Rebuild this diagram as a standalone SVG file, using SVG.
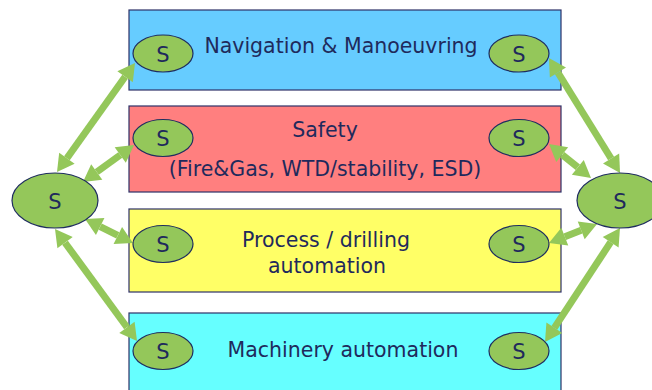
<svg xmlns="http://www.w3.org/2000/svg" width="652" height="390" viewBox="0 0 652 390">
  <style>
    .box { stroke: #2E3168; stroke-width: 1.2; }
    .node { fill: #94C75A; stroke: #1F2D5F; stroke-width: 1.2; }
    .lbl { font-family: "DejaVu Sans", Verdana, sans-serif; font-size: 20.5px; fill: #1F2A5C; text-anchor: middle; }
    .s { font-family: "DejaVu Sans", Verdana, sans-serif; font-size: 21px; fill: #1F2A5C; text-anchor: middle; }
    .link { stroke: #94C75A; stroke-width: 7; fill: none; marker-start: url(#head); marker-end: url(#head); }
  </style>
  <defs>
    <marker id="head" markerUnits="userSpaceOnUse" markerWidth="18" markerHeight="20" refX="0" refY="10" orient="auto-start-reverse" overflow="visible">
      <path d="M0,0.5 L17,10 L0,19.5 Z" fill="#94C75A"/>
    </marker>
  </defs>

  <!-- subsystem bands -->
  <g id="nav">
    <rect class="box" x="129" y="10" width="432" height="80" fill="#66CCFF"/>
    <text class="lbl" x="341" y="53">Navigation &amp; Manoeuvring</text>
  </g>
  <g id="safety">
    <rect class="box" x="129" y="106" width="432" height="86" fill="#FF7F7F"/>
    <text class="lbl" x="325" y="137">Safety</text>
    <text class="lbl" x="325" y="176">(Fire&amp;Gas, WTD/stability, ESD)</text>
  </g>
  <g id="process">
    <rect class="box" x="129" y="209" width="432" height="83" fill="#FFFF66"/>
    <text class="lbl" x="326" y="247">Process / drilling</text>
    <text class="lbl" x="327" y="273">automation</text>
  </g>
  <g id="machinery">
    <rect class="box" x="129" y="313" width="432" height="85" fill="#66FFFF"/>
    <text class="lbl" x="343" y="357">Machinery automation</text>
  </g>

  <!-- connectors -->
  <g id="connectors">
    <line class="link" x1="66.9" y1="158.2" x2="125.1" y2="76.8"/>
    <line class="link" x1="96.75" y1="172" x2="120.25" y2="155"/>
    <line class="link" x1="100.2" y1="226.6" x2="117.8" y2="235.4"/>
    <line class="link" x1="65.05" y1="242.7" x2="126.95" y2="327.3"/>
    <line class="link" x1="557.9" y1="72.5" x2="611.1" y2="158.5"/>
    <line class="link" x1="562.2" y1="154.7" x2="577.8" y2="167.3"/>
    <line class="link" x1="564.8" y1="236.7" x2="581.2" y2="230.3"/>
    <line class="link" x1="610.65" y1="242.2" x2="554.35" y2="327.8"/>
  </g>

  <!-- switches -->
  <g id="s-left">
    <ellipse class="node" cx="55" cy="200.5" rx="43" ry="27.5"/>
    <text class="s" x="55" y="209">S</text>
  </g>
  <g id="s-right">
    <ellipse class="node" cx="620" cy="200.5" rx="43" ry="27.5"/>
    <text class="s" x="620" y="209">S</text>
  </g>
  <g id="s-nav-l">
    <ellipse class="node" cx="163" cy="53.5" rx="30" ry="18.5"/>
    <text class="s" x="163" y="62">S</text>
  </g>
  <g id="s-nav-r">
    <ellipse class="node" cx="519" cy="53.5" rx="30" ry="18.5"/>
    <text class="s" x="519" y="62">S</text>
  </g>
  <g id="s-safety-l">
    <ellipse class="node" cx="163" cy="138" rx="30" ry="18.5"/>
    <text class="s" x="163" y="146">S</text>
  </g>
  <g id="s-safety-r">
    <ellipse class="node" cx="519" cy="138" rx="30" ry="18.5"/>
    <text class="s" x="519" y="146">S</text>
  </g>
  <g id="s-process-l">
    <ellipse class="node" cx="163" cy="244" rx="30" ry="18.5"/>
    <text class="s" x="163" y="252">S</text>
  </g>
  <g id="s-process-r">
    <ellipse class="node" cx="519" cy="244" rx="30" ry="18.5"/>
    <text class="s" x="519" y="252">S</text>
  </g>
  <g id="s-mach-l">
    <ellipse class="node" cx="163" cy="351" rx="30" ry="18.5"/>
    <text class="s" x="163" y="359">S</text>
  </g>
  <g id="s-mach-r">
    <ellipse class="node" cx="519" cy="351" rx="30" ry="18.5"/>
    <text class="s" x="519" y="359">S</text>
  </g>
</svg>
